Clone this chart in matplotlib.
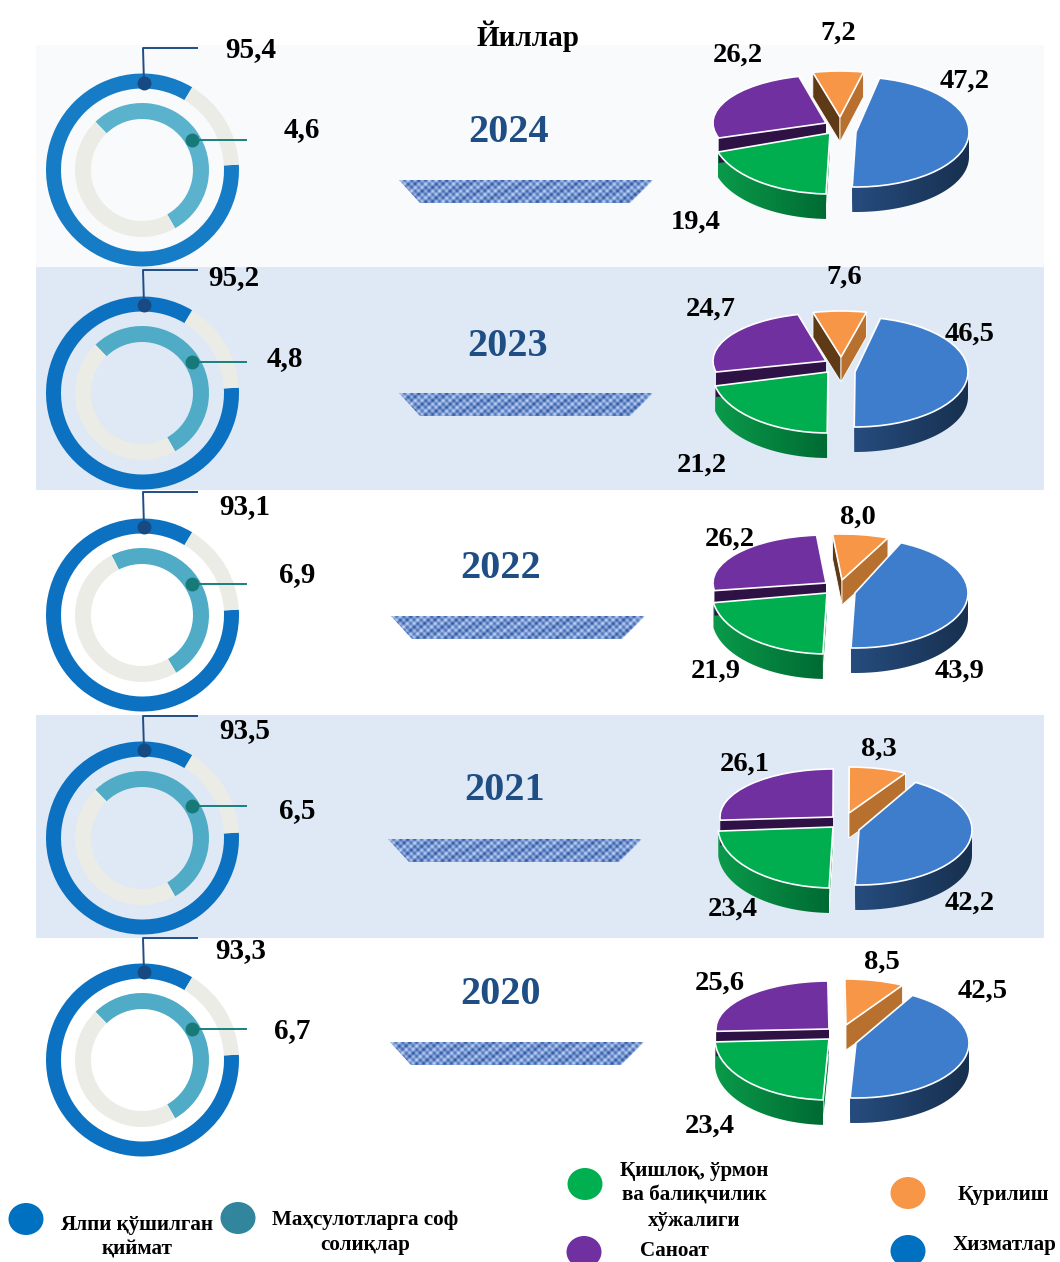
import matplotlib
matplotlib.use('Agg')
import matplotlib.pyplot as plt
import numpy as np
from matplotlib.colors import LinearSegmentedColormap
from matplotlib.patches import Ellipse, Polygon
from matplotlib.transforms import Affine2D

W, H = 1060, 1262
SERIF = ['Liberation Serif', 'DejaVu Serif']

years = ['2024', '2023', '2022', '2021', '2020']

# labelled values
gva = ['95,4', '95,2', '93,1', '93,5', '93,3']
net_tax = ['4,6', '4,8', '6,9', '6,5', '6,7']
services = [47.2, 46.5, 43.9, 42.2, 42.5]
agriculture = [19.4, 21.2, 21.9, 23.4, 23.4]
industry = [26.2, 24.7, 26.2, 26.1, 25.6]
construction = [7.2, 7.6, 8.0, 8.3, 8.5]

# how much of each decorative ring is coloured in the picture
outer_fill = [84.5, 84.5, 84.5, 84.5, 84.5]
inner_fill = [54.0, 54.0, 49.0, 54.0, 54.0]
inner_start = [134, 134, 117, 134, 134]

# layout, in pixels of the reference
ring_y = [170, 393, 615, 838, 1060]
outer_col = ['#177cc6', '#0b71c0', '#0b71c0', '#0b71c0', '#0b71c0']
inner_col = ['#5ab2cc', '#4fabc6', '#4fabc6', '#4fabc6', '#4fabc6']
leader_top = [48, 270, 492, 716, 938]
outer_dot_y = [83, 305, 527, 750, 972]
inner_dot_y = [140, 362, 584, 806, 1029]
gva_pos = [(251, 50), (234, 278), (245, 507), (245, 731), (241, 951)]
tax_pos = [(302, 130), (285, 359), (297, 575), (297, 811), (292, 1031)]
year_pos = [(509, 133), (508, 346), (501, 568), (505, 791), (500, 994)]
trap_x = [399, 399, 391, 388, 390]
trap_y = [180, 393, 616, 839, 1042]

pie_start = [78, 77, 66, 60, 60]
apex_services = [(856, 132), (855, 372), (855, 593), (859, 830), (856, 1043)]
apex_agri = [(830, 133), (828, 372), (827, 593), (833, 827), (829, 1039)]
apex_industry = [(826, 123), (826, 361), (826, 583), (833, 817), (829, 1029)]
apex_constr = [(840, 117), (841, 357), (842, 580), (849, 813), (846, 1025)]
services_lab = [(965, 81), (970, 334), (960, 671), (970, 903), (983, 991)]
agri_lab = [(696, 222), (702, 465), (716, 671), (733, 909), (710, 1126)]
industry_lab = [(738, 55), (711, 309), (730, 539), (745, 764), (720, 983)]
constr_lab = [(838, 33), (844, 277), (858, 517), (879, 749), (882, 962)]

RX, RY, DEPTH = 113, 54, 25
# the front of the pie is drawn taller than the back, like in the picture
slice_ry = [55, 61, 48, 46]
agri_rx = [118, 116, 115, 115, 114]

BLUE, GREEN, PURPLE, ORANGE = '#3e7dcc', '#00ad4f', '#7030a0', '#f79646'
RING_GREY = '#ecece6'


def flat_ax(zorder):
    a = fig.add_axes([0, 0, 1, 1], frame_on=False, zorder=zorder)
    a.set_xticks([])
    a.set_yticks([])
    return a


def reset_px(a):
    a.set_xlim(0, W)
    a.set_ylim(0, H)
    a.set_aspect('auto')


def rim_points(apex, rx, ry, a1, a2):
    # outer wall of a slice, only the part that faces the viewer
    lo, hi = max(a2, -180), min(a1, 0)
    t = np.radians(np.linspace(lo, hi, 40))
    xs = apex[0] / RX + np.cos(t) * rx / RX
    ys = (H - apex[1]) / RY + np.sin(t) * ry / RY
    drop = DEPTH / RY
    return np.r_[xs, xs[::-1]], np.r_[ys, ys[::-1] - drop]


def cut_points(apex, rx, ry, ang):
    x0, y0 = apex[0] / RX, (H - apex[1]) / RY
    x1 = x0 + np.cos(np.radians(ang)) * rx / RX
    y1 = y0 + np.sin(np.radians(ang)) * ry / RY
    drop = DEPTH / RY
    return [x0, x1, x1, x0], [y0, y1, y1 - drop, y0 - drop]


def gradient_rim(a, pts, c1, c2):
    cmap = LinearSegmentedColormap.from_list('rim', [c1, c2])
    xs, ys = pts
    im = a.imshow(np.linspace(0, 1, 64).reshape(1, -1), cmap=cmap, aspect='auto', zorder=2,
                  extent=(xs.min(), xs.max(), ys.min(), ys.max()))
    im.set_clip_path(Polygon(np.c_[xs, ys], transform=a.transData))


def woven_strip(a, x0, y0):
    # blue cloth texture of the strip under each year
    xs = [x0, x0 + 254, x0 + 231, x0 + 21]
    ys = [y0, y0, y0 - 23, y0 - 23]
    xx, yy = np.meshgrid(np.arange(254), np.arange(23))
    tex = np.sin((xx + yy) * 0.9) + np.sin((xx - yy) * 0.9) + 0.7 * np.sin(xx * 0.23 + yy * 0.5)
    cmap = LinearSegmentedColormap.from_list('cloth', ['#2f5597', '#7596d4', '#c5d5f0'])
    im = a.imshow(tex, cmap=cmap, aspect='auto', interpolation='bilinear', zorder=2,
                  extent=(x0, x0 + 254, y0 - 23, y0))
    im.set_clip_path(Polygon(np.c_[xs, ys], transform=a.transData))


fig = plt.figure(figsize=(W / 100, H / 100), dpi=100, facecolor='white')

ax = flat_ax(1)
pie_ax = flat_ax(2)
top = flat_ax(3)

# bands
ax.fill_between([36, 1044], H - 267, H - 45, color='#f9fafc', lw=0)
ax.fill_between([36, 1044], H - 490, H - 267, color='#dfe8f5', lw=0)
ax.fill_between([36, 1044], H - 938, H - 715, color='#dfe8f5', lw=0)

for i, yr in enumerate(years):
    cy = H - ring_y[i]

    # rings
    ax.pie([outer_fill[i], 100 - outer_fill[i]], startangle=59, center=(142.5, cy), radius=96.5,
           colors=[outer_col[i], RING_GREY], wedgeprops=dict(width=15, lw=0))
    ax.pie([inner_fill[i], 100 - inner_fill[i]], startangle=inner_start[i], counterclock=False,
           center=(142, cy), radius=67, colors=[inner_col[i], RING_GREY],
           wedgeprops=dict(width=16, lw=0))

    # leader lines
    top.plot([144, 143, 197], [H - outer_dot_y[i], H - leader_top[i], H - leader_top[i]],
             color='#1f4e85', lw=1.4)
    top.plot([144], [H - outer_dot_y[i]], 'o', ms=9, color='#174a82')
    top.plot([192, 246], [H - inner_dot_y[i], H - inner_dot_y[i]], color='#1b7f7f', lw=1.4)
    top.plot([192], [H - inner_dot_y[i]], 'o', ms=9, color='#187a78')

    top.text(gva_pos[i][0], H - gva_pos[i][1], gva[i], family=SERIF, weight='bold', fontsize=21,
             ha='center', va='center', color='black')
    top.text(tax_pos[i][0], H - tax_pos[i][1], net_tax[i], family=SERIF, weight='bold', fontsize=21,
             ha='center', va='center', color='black')

    # year and the strip under it
    top.text(year_pos[i][0], H - year_pos[i][1], yr, family=SERIF, weight='bold', fontsize=29,
             ha='center', va='center', color='#1f4e85')
    woven_strip(ax, trap_x[i], H - trap_y[i])

    # pies
    vals = [services[i], agriculture[i], industry[i], construction[i]]
    apexes = [apex_services[i], apex_agri[i], apex_industry[i], apex_constr[i]]
    rxs = [RX, agri_rx[i], RX, RX]
    angles = pie_start[i] - np.r_[0, np.cumsum(vals)] * 3.6

    pie_ax.fill(*cut_points(apexes[0], RX, slice_ry[0], angles[1]), color='#1c3a60', lw=0, zorder=2)
    gradient_rim(pie_ax, rim_points(apexes[0], RX, slice_ry[0], angles[0], angles[1]),
                 '#264c7e', '#17304f')

    pie_ax.fill(*cut_points(apexes[1], rxs[1], slice_ry[1], angles[1]), facecolor='#00873e',
                edgecolor='white', lw=0.7, zorder=2)
    gradient_rim(pie_ax, rim_points(apexes[1], rxs[1], slice_ry[1], angles[1], angles[2]),
                 '#0a9a4a', '#006b33')

    pie_ax.fill(*cut_points(apexes[2], RX, slice_ry[2], angles[2]), color='#2f1245', lw=0, zorder=2)

    pie_ax.fill(*cut_points(apexes[3], RX, slice_ry[3], angles[3]), facecolor='#5f3a17',
                edgecolor='white', lw=0.6, zorder=2)
    pie_ax.fill(*cut_points(apexes[3], RX, slice_ry[3], angles[4]), facecolor='#b8702f',
                edgecolor='white', lw=0.6, zorder=2)

    wedges, _ = pie_ax.pie(vals, startangle=pie_start[i], counterclock=False,
                           colors=[BLUE, GREEN, PURPLE, ORANGE],
                           wedgeprops=dict(edgecolor='white', lw=1.2, zorder=3))
    for w, p, rx, ry in zip(wedges, apexes, rxs, slice_ry):
        w.set_transform(Affine2D().scale(rx / RX, ry / RY).translate(p[0] / RX, (H - p[1]) / RY)
                        + pie_ax.transData)

    for lab, pos in zip(vals, [services_lab[i], agri_lab[i], industry_lab[i], constr_lab[i]]):
        top.text(pos[0], H - pos[1], f'{lab:.1f}'.replace('.', ','), family=SERIF, weight='bold',
                 fontsize=20.5, ha='center', va='center', color='black')

top.text(528, H - 36, 'Йиллар', family=SERIF, weight='bold', fontsize=21, ha='center', va='center')

# legend
legend_marks = [(26, 1219, '#0070c0'), (238, 1218, '#31859c'), (585, 1184, '#00b050'),
                (584, 1252, '#7030a0'), (908, 1193, '#f79646'), (908, 1251, '#0070c0')]
for x, y, c in legend_marks:
    top.add_patch(Ellipse((x, H - y), 35, 32, color=c, lw=0))

legend_text = [(137, 1225, 'Ялпи қўшилган'), (137, 1250, 'қиймат'),
               (365, 1220, 'Маҳсулотларга соф'), (365, 1245, 'солиқлар'),
               (694, 1171, 'Қишлоқ, ўрмон'), (694, 1196, 'ва балиқчилик'), (694, 1221, 'хўжалиги'),
               (674, 1251, 'Саноат'), (1003, 1195, 'Қурилиш'), (1005, 1245, 'Хизматлар')]
for x, y, s in legend_text:
    top.text(x, H - y, s, family=SERIF, weight='bold', fontsize=15.2, ha='center', va='center')

reset_px(ax)
reset_px(top)
pie_ax.set_xlim(0, W / RX)
pie_ax.set_ylim(0, H / RY)
pie_ax.set_aspect('auto')

fig.savefig('out.png', dpi=100)
